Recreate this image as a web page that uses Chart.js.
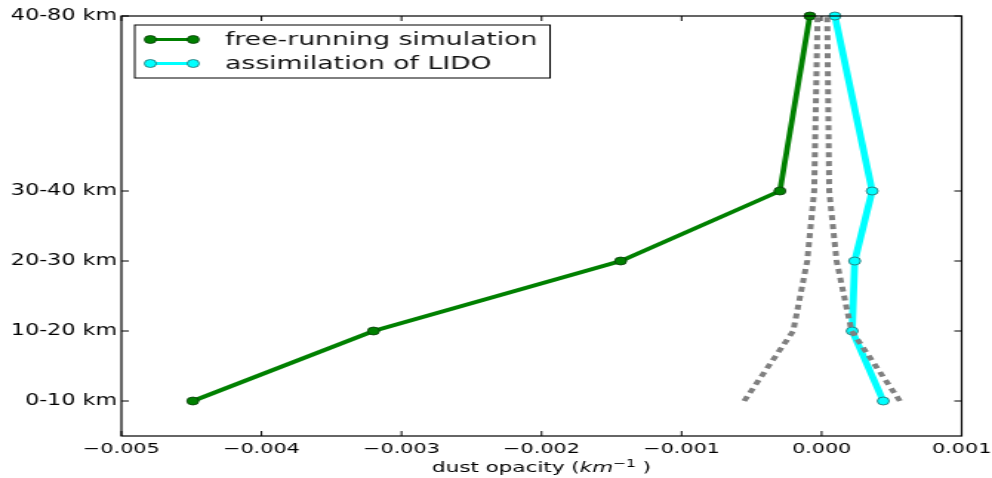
<!DOCTYPE html>
<html>
<head>
<meta charset="utf-8">
<title>dust opacity profile</title>
<script src="https://cdn.jsdelivr.net/npm/chart.js@4/dist/chart.umd.min.js"></script>
<style>
  html, body { margin: 0; padding: 0; background: #fff; }
  /* drawn narrow, shown wide */
  #profile { width: 992px; height: 478px; }
</style>
</head>
<body>
<canvas id="profile" width="670" height="478" style="width:992px;height:478px"></canvas>
<script>
// --- altitude bins (y positions and their labels) ---
const levels = [0, 1, 2, 3, 5.5];
const levelLabels = ['0-10 km', '10-20 km', '20-30 km', '30-40 km', '40-80 km'];
const xTicks = [-0.005, -0.004, -0.003, -0.002, -0.001, 0, 0.001];

// --- dust opacity per bin (km^-1), bottom to top ---
const freeRunning = [-0.00449, -0.00320, -0.001435, -0.000298, -0.000084];
const lidoAssim   = [0.00044, 0.000218, 0.000236, 0.000361, 0.000095];
const spreadLow   = [-0.000553, -0.000203, -0.000103, -0.000053, -0.000029];
const spreadHigh  = [0.000559, 0.000214, 0.000107, 0.000054, 0.00004];

const FONT = '"DejaVu Sans", "Liberation Sans", sans-serif';

const seriesStyle = {
    free: { color: '#008000', edge: '#0a3a0a', width: 3.8 },
    lido: { color: '#00ffff', edge: '#2a6a6a', width: 4.8 }
};

function toPoints(xs) {
    return xs.map((x, i) => ({ x: x, y: levels[i] }));
}

function tickText(v) {
    const s = Math.abs(v).toFixed(3);
    return v < -1e-12 ? '\u2212' + s : s;
}

function drawMarker(ctx, x, y, fill, edge) {
    ctx.beginPath();
    ctx.arc(x, y, 4, 0, Math.PI * 2);
    ctx.fillStyle = fill;
    ctx.fill();
    ctx.lineWidth = 0.8;
    ctx.strokeStyle = edge;
    ctx.stroke();
}

// frame, inward ticks, legend box and the x-axis label
const framePlugin = {
    id: 'frame',
    afterDraw(chart) {
        const ctx = chart.ctx;
        const a = chart.chartArea;
        const xs = chart.scales.x;
        const ys = chart.scales.y;
        ctx.save();

        ctx.strokeStyle = '#000';
        ctx.lineWidth = 1.2;
        ctx.strokeRect(a.left, a.top, a.right - a.left, a.bottom - a.top);

        ctx.lineWidth = 1;
        ctx.beginPath();
        xTicks.forEach(v => {
            const px = xs.getPixelForValue(v);
            ctx.moveTo(px, a.bottom); ctx.lineTo(px, a.bottom - 5);
            ctx.moveTo(px, a.top); ctx.lineTo(px, a.top + 5);
        });
        levels.forEach(v => {
            const py = ys.getPixelForValue(v);
            ctx.moveTo(a.left, py); ctx.lineTo(a.left + 5, py);
            ctx.moveTo(a.right, py); ctx.lineTo(a.right - 5, py);
        });
        ctx.stroke();

        // legend
        const box = { x: 91, y: 25, w: 280.5, h: 53 };
        ctx.fillStyle = '#fff';
        ctx.fillRect(box.x, box.y, box.w, box.h);
        ctx.strokeStyle = '#000';
        ctx.lineWidth = 1;
        ctx.strokeRect(box.x, box.y, box.w, box.h);
        const rows = [
            { label: 'free-running simulation', st: seriesStyle.free, y: 39.5 },
            { label: 'assimilation of LIDO', st: seriesStyle.lido, y: 63.5 }
        ];
        rows.forEach(r => {
            ctx.beginPath();
            ctx.moveTo(101.5, r.y);
            ctx.lineTo(130.5, r.y);
            ctx.strokeStyle = r.st.color;
            ctx.lineWidth = 3;
            ctx.stroke();
            drawMarker(ctx, 101.5, r.y, r.st.color, r.st.edge);
            drawMarker(ctx, 130.5, r.y, r.st.color, r.st.edge);
            ctx.fillStyle = '#111';
            ctx.font = '18px ' + FONT;
            ctx.textAlign = 'left';
            ctx.textBaseline = 'middle';
            ctx.fillText(r.label, 152, r.y + 1);
        });

        // x-axis label with italic unit and superscript
        const parts = [
            { t: 'dust opacity (', f: '14.5px ' + FONT, dy: 0 },
            { t: 'km', f: 'italic 14.5px ' + FONT, dy: 0 },
            { t: '\u22121', f: '10.5px ' + FONT, dy: -5 },
            { t: ' )', f: '14.5px ' + FONT, dy: 0 }
        ];
        let total = 0;
        parts.forEach(p => { ctx.font = p.f; p.w = ctx.measureText(p.t).width; total += p.w; });
        let cx = (a.left + a.right) / 2 - total / 2;
        ctx.fillStyle = '#000';
        ctx.textAlign = 'left';
        ctx.textBaseline = 'alphabetic';
        parts.forEach(p => {
            ctx.font = p.f;
            ctx.fillText(p.t, cx, 472 + p.dy);
            cx += p.w;
        });

        ctx.restore();
    }
};

new Chart(document.getElementById('profile'), {
    type: 'scatter',
    data: {
        datasets: [
            {
                label: 'free-running simulation',
                data: toPoints(freeRunning),
                showLine: true,
                borderColor: seriesStyle.free.color,
                borderWidth: seriesStyle.free.width,
                pointRadius: 4,
                pointBackgroundColor: seriesStyle.free.color,
                pointBorderColor: seriesStyle.free.edge,
                pointBorderWidth: 0.8,
                clip: false,
                order: 2
            },
            {
                label: 'assimilation of LIDO',
                data: toPoints(lidoAssim),
                showLine: true,
                borderColor: seriesStyle.lido.color,
                borderWidth: seriesStyle.lido.width,
                pointRadius: 4,
                pointBackgroundColor: seriesStyle.lido.color,
                pointBorderColor: seriesStyle.lido.edge,
                pointBorderWidth: 0.8,
                clip: false,
                order: 1
            },
            {
                label: 'spread low',
                data: toPoints(spreadLow),
                showLine: true,
                borderColor: '#808080',
                borderWidth: 4,
                borderDash: [5, 4],
                borderCapStyle: 'butt',
                pointRadius: 0,
                clip: false,
                order: 0
            },
            {
                label: 'spread high',
                data: toPoints(spreadHigh),
                showLine: true,
                borderColor: '#808080',
                borderWidth: 4,
                borderDash: [5, 4],
                borderCapStyle: 'butt',
                pointRadius: 0,
                clip: false,
                order: 0
            }
        ]
    },
    options: {
        responsive: false,
        animation: false,
        layout: { padding: { left: 0, right: 20.5, top: 16, bottom: 0 } },
        plugins: {
            legend: { display: false },
            tooltip: { enabled: false }
        },
        scales: {
            x: {
                type: 'linear',
                min: -0.005,
                max: 0.001,
                grid: { display: false, drawTicks: false },
                border: { display: false },
                afterBuildTicks: scale => { scale.ticks = xTicks.map(v => ({ value: v })); },
                afterFit: scale => {
                    scale.height = 42;
                    // edge labels may hang past the plot box
                    scale.paddingLeft = 0;
                    scale.paddingRight = 0;
                },
                ticks: {
                    color: '#000',
                    padding: 5,
                    maxRotation: 0,
                    font: { family: FONT, size: 14 },
                    callback: v => tickText(v)
                }
            },
            y: {
                type: 'linear',
                min: -0.5,
                max: 5.5,
                grid: { display: false, drawTicks: false },
                border: { display: false },
                afterBuildTicks: scale => { scale.ticks = levels.map(v => ({ value: v })); },
                afterFit: scale => {
                    scale.width = 82;
                    scale.paddingTop = 0;
                    scale.paddingBottom = 0;
                },
                ticks: {
                    color: '#000',
                    padding: 3,
                    font: { family: FONT, size: 15 },
                    callback: v => levelLabels[levels.indexOf(v)]
                }
            }
        }
    },
    plugins: [framePlugin]
});
</script>
</body>
</html>
